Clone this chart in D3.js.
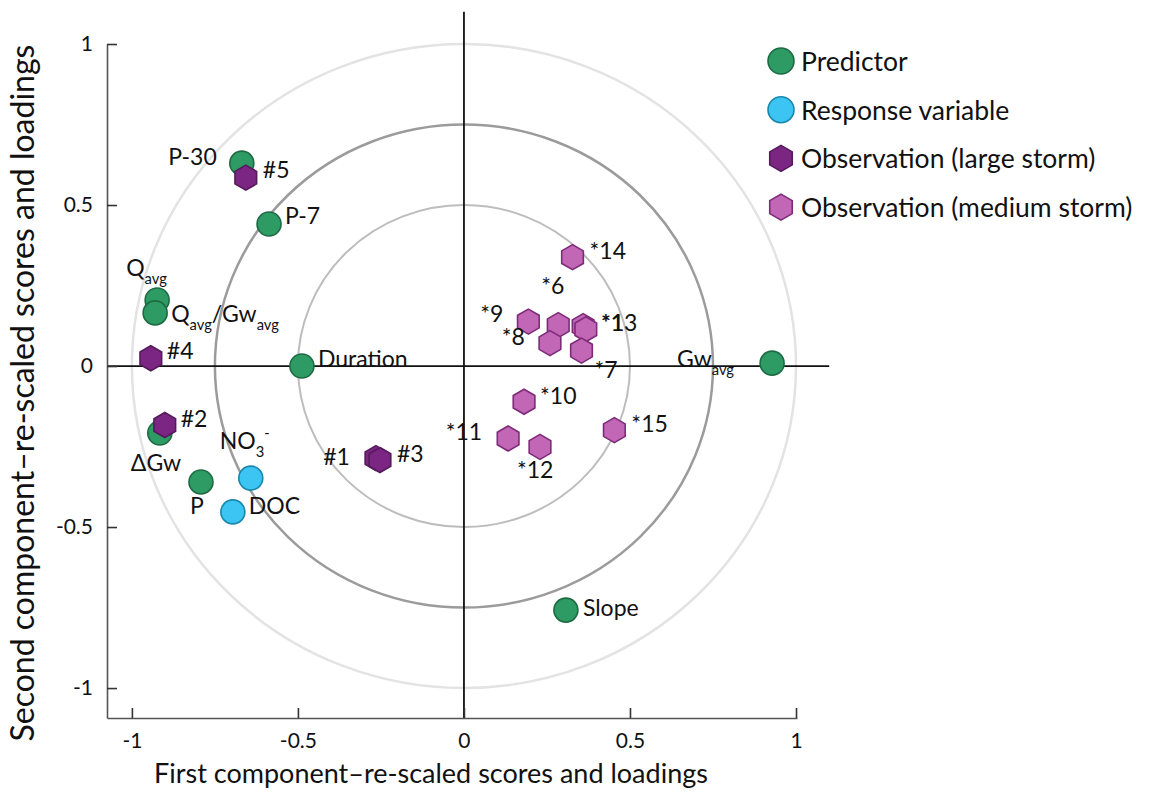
<!DOCTYPE html>
<html>
<head>
<meta charset="utf-8">
<script src="https://cdn.jsdelivr.net/npm/d3@7/dist/d3.min.js"></script>
<style>
  html, body { margin: 0; padding: 0; background: #fff; }
  svg { display: block; }
  text { font-family: Lato, "Open Sans", sans-serif; fill: #111; }
</style>
</head>
<body>
<svg id="chart" width="1159" height="796"></svg>
<script>
// PCA biplot: loadings of predictors / responses and re-scaled storm scores

// Predictor loadings
const predictorLabels = ["P-30", "P-7", "Q_{avg}", "Q_{avg}/Gw_{avg}", "Duration", "ΔGw", "P", "Slope", "Gw_{avg}"];
const predictorX = [-0.669, -0.587, -0.924, -0.930, -0.488, -0.916, -0.792, 0.307, 0.928];
const predictorY = [0.630, 0.441, 0.205, 0.165, 0.000, -0.208, -0.360, -0.758, 0.009];

// Response variable loadings
const responseLabels = ["NO_{3}^{-}", "DOC"];
const responseX = [-0.642, -0.696];
const responseY = [-0.348, -0.453];

// Observation scores, large storms
const largeLabels = ["#5", "#4", "#2", "#1", "#3"];
const largeX = [-0.657, -0.943, -0.901, -0.265, -0.253];
const largeY = [0.585, 0.024, -0.183, -0.286, -0.292];

// Observation scores, medium storms
const mediumLabels = ["*14", "*9", "*6", "*8", "*1", "*13", "*7", "*10", "*11", "*12", "*15"];
const mediumX = [0.327, 0.194, 0.284, 0.259, 0.359, 0.367, 0.354, 0.181, 0.133, 0.229, 0.453];
const mediumY = [0.338, 0.138, 0.127, 0.071, 0.124, 0.114, 0.048, -0.111, -0.225, -0.251, -0.199];

// Reference circles (radius in component units)
const circleRadii = [1.0, 0.75, 0.5];

// Axis ticks
const xTicks = [-1, -0.5, 0, 0.5, 1];
const yTicks = [-1, -0.5, 0, 0.5, 1];

// Legend entries
const legendLabels = ["Predictor", "Response variable", "Observation (large storm)", "Observation (medium storm)"];

// ---- styling / layout ----
const colors = {
  predictor: { fill: "#2e9a64", stroke: "#1d6b43" },
  response:  { fill: "#3cc4f2", stroke: "#1a88ad" },
  large:     { fill: "#7b2683", stroke: "#561a5c" },
  medium:    { fill: "#c266b6", stroke: "#7d2b78" }
};
const circleStyle = { 1.0: { stroke: "#e3e3e3", w: 2.5 }, 0.75: { stroke: "#9b9b9b", w: 2.5 }, 0.5: { stroke: "#bdbdbd", w: 2 } };

const labelSize = 23;

// label placement relative to the mark (pixels): dx, dy (to text middle), anchor
const place = {
  "P-30": [-25, -7, "end"], "P-7": [16, -9, "start"], "Q_{avg}": [-31, -33, "start"],
  "Q_{avg}/Gw_{avg}": [16, 0, "start"], "Duration": [16, -8, "start"], "ΔGw": [-29, 29, "start"],
  "P": [-11, 23, "start"], "Slope": [17, -3, "start"], "Gw_{avg}": [-95, -5, "start"],
  "NO_{3}^{-}": [-31, -38, "start"], "DOC": [16, -7, "start"],
  "#5": [17, -9, "start"], "#4": [16, -8, "start"], "#2": [16, -7, "start"], "#1": [-26, -2, "end"], "#3": [17, -7, "start"],
  "*14": [17, -7, "start"], "*9": [-25, -9, "end"], "*6": [-17, -40, "start"], "*8": [-25, -7, "end"],
  "*1": [18, -3.7, "start"], "*13": [15, -7, "start"], "*7": [13, 18, "start"], "*10": [16, -7, "start"],
  "*11": [-26, -7, "end"], "*12": [-23, 22, "start"], "*15": [17, -7, "start"]
};

const svg = d3.select("#chart");

const x = d3.scaleLinear().domain([-1.075, 1.003]).range([107, 797]);
const y = d3.scaleLinear().domain([-1.093, 1]).range([718, 44]);

// reference circles
svg.append("g").selectAll("ellipse").data(circleRadii).join("ellipse")
  .attr("cx", x(0)).attr("cy", y(0))
  .attr("rx", r => x(r) - x(0)).attr("ry", r => y(0) - y(r))
  .attr("fill", "none")
  .attr("stroke", r => circleStyle[r].stroke)
  .attr("stroke-width", r => circleStyle[r].w);

// zero lines
svg.append("line").attr("x1", x(-1.075)).attr("x2", x(1.1)).attr("y1", y(0)).attr("y2", y(0))
  .attr("stroke", "#111").attr("stroke-width", 1.8);
svg.append("line").attr("x1", x(0)).attr("x2", x(0)).attr("y1", y(1.1)).attr("y2", y(-1.093))
  .attr("stroke", "#111").attr("stroke-width", 1.8);

// axes
const fmt = d => String(d);
const xAxis = svg.append("g").attr("transform", `translate(0,${y(-1.093)})`)
  .call(d3.axisBottom(x).tickValues(xTicks).tickFormat(fmt).tickSizeInner(-10).tickSizeOuter(0).tickPadding(15));
const yAxis = svg.append("g").attr("transform", `translate(${x(-1.075)},0)`)
  .call(d3.axisLeft(y).tickValues(yTicks).tickFormat(fmt).tickSizeInner(-10).tickSizeOuter(0).tickPadding(14));
[xAxis, yAxis].forEach(g => {
  g.select(".domain").attr("stroke", "#555").attr("stroke-width", 1.6);
  g.selectAll(".tick line").attr("stroke", "#333").attr("stroke-width", 1.6);
  g.selectAll(".tick text").attr("font-family", "Lato, sans-serif").attr("font-size", 21).attr("fill", "#111");
});

// axis titles
svg.append("text").attr("x", 431).attr("y", 783).attr("text-anchor", "middle")
  .attr("font-size", 27).text("First component\u2013re-scaled scores and loadings");
svg.append("text").attr("transform", `translate(34,393) rotate(-90)`).attr("text-anchor", "middle")
  .attr("font-size", 32).text("Second component\u2013re-scaled scores and loadings");

// marker helpers
const hexPath = r => {
  const pts = d3.range(6).map(i => {
    const a = Math.PI / 3 * i - Math.PI / 2;
    return [r * Math.cos(a), r * Math.sin(a)];
  });
  return "M" + pts.map(p => p.join(",")).join("L") + "Z";
};

// rich label: _{sub} and ^{sup}
function richText(sel, label, size) {
  const parts = [];
  const re = /([_^])\{([^}]*)\}|([^_^]+)/g;
  let m;
  while ((m = re.exec(label)) !== null) {
    if (m[3]) parts.push({ t: m[3], k: "n" });
    else parts.push({ t: m[2], k: m[1] === "_" ? "sub" : "sup" });
  }
  let shift = 0;
  parts.forEach(p => {
    const ts = sel.append("tspan").text(p.t);
    if (p.k === "n") {
      ts.attr("font-size", size).attr("dy", -shift); shift = 0;
    } else if (p.k === "sub") {
      ts.attr("font-size", size * 0.64).attr("dy", 11 - shift); shift = 11;
    } else {
      ts.attr("font-size", size * 0.64).attr("dy", -8 - shift); shift = -8;
    }
  });
}

function drawGroup(labels, xs, ys, kind, shape) {
  const data = labels.map((l, i) => ({ label: l, x: xs[i], y: ys[i] }));
  const g = svg.append("g");
  const marks = g.selectAll("g.mark").data(data).join("g").attr("class", "mark")
    .attr("transform", d => `translate(${x(d.x)},${y(d.y)})`);
  if (shape === "circle") {
    marks.append("circle").attr("r", 12);
  } else {
    marks.append("path").attr("d", hexPath(12.5));
  }
  marks.selectAll("circle,path").attr("fill", colors[kind].fill)
    .attr("stroke", colors[kind].stroke).attr("stroke-width", 1.6);
  return data;
}

function drawLabels(data) {
  const g = svg.append("g");
  data.forEach(d => {
    const p = place[d.label];
    const t = g.append("text")
      .attr("x", x(d.x) + p[0]).attr("y", y(d.y) + p[1])
      .attr("dominant-baseline", "central")
      .attr("text-anchor", p[2]);
    richText(t, d.label, labelSize);
  });
}

const dPred = drawGroup(predictorLabels, predictorX, predictorY, "predictor", "circle");
const dResp = drawGroup(responseLabels, responseX, responseY, "response", "circle");
const dLarge = drawGroup(largeLabels, largeX, largeY, "large", "hex");
const dMed = drawGroup(mediumLabels, mediumX, mediumY, "medium", "hex");
[dPred, dResp, dLarge, dMed].forEach(drawLabels);

// legend
const legendKinds = ["predictor", "response", "large", "medium"];
const legend = svg.append("g").attr("transform", "translate(781,61)");
const items = legend.selectAll("g").data(legendLabels).join("g")
  .attr("transform", (d, i) => `translate(0,${i * 48.7})`);
items.each(function (d, i) {
  const k = legendKinds[i];
  const s = d3.select(this);
  if (i < 2) s.append("circle").attr("r", 13);
  else s.append("path").attr("d", hexPath(13));
  s.selectAll("circle,path").attr("fill", colors[k].fill).attr("stroke", colors[k].stroke).attr("stroke-width", 1.6);
  s.append("text").attr("x", 20).attr("dominant-baseline", "central").attr("font-size", 26.5).text(d);
});
</script>
</body>
</html>
